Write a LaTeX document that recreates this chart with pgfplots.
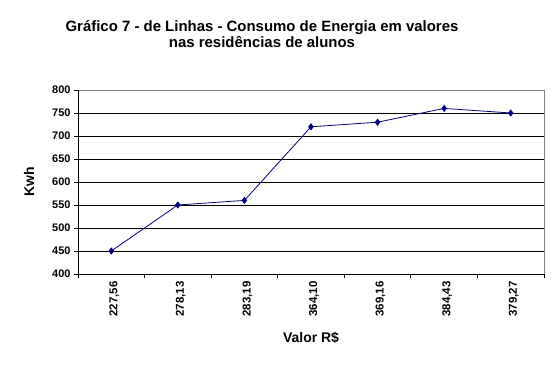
\documentclass[border=0pt]{standalone}
\usepackage{pgfplots}
\pgfplotsset{compat=1.18}
\usepackage{fontspec}
\setmainfont{Liberation Sans}
\definecolor{navy}{RGB}{0,0,128}
\begin{document}
\begin{tikzpicture}
\useasboundingbox (-78bp,-96bp) rectangle (482bp,274bp);
\begin{axis}[
  at={(0bp,0bp)}, anchor=south west,
  scale only axis, width=466bp, height=184bp,
  xmin=-0.5, xmax=6.5, ymin=400, ymax=800,
  ytick={400,450,...,800},
  xtick={0,...,6},
  xticklabels={{227,56},{278,13},{283,19},{364,10},{369,16},{384,43},{379,27}},
  minor xtick={-0.5,0.5,...,6.5},
  major x tick style={draw=none},
  minor tick length=4bp,
  major tick length=4bp,
  tick align=outside,
  xtick pos=bottom, ytick pos=left,
  ymajorgrids, grid style={black, line width=0.8pt},
  axis line style={line width=0.8pt},
  separate axis lines,
  x axis line style={black},
  y axis line style={black},
  tick style={black, line width=0.8pt},
  xticklabel style={rotate=90, anchor=east, font=\fontsize{11.5}{13}\selectfont\bfseries, yshift=-3bp},
  yticklabel style={font=\fontsize{11}{13}\selectfont\bfseries},
  /pgf/number format/assume math mode=true,
  xlabel={Valor R\$},
  ylabel={Kwh},
  xlabel style={font=\fontsize{14}{16}\selectfont\bfseries, at={(axis description cs:0.5,0)}, anchor=center, yshift=-64bp},
  ylabel style={font=\fontsize{14}{16}\selectfont\bfseries, at={(axis description cs:0,0.5)}, anchor=center, yshift=49bp},
  clip=false,
]
\addplot[navy, line width=0.8pt, mark=diamond*, mark size=3bp, mark options={fill=navy}] coordinates {
 (0,450) (1,550) (2,560) (3,720) (4,730) (5,760) (6,750)};
\end{axis}
\draw[gray, line width=0.8pt] (0bp,184bp) -- (466bp,184bp) -- (466bp,0bp);
\draw[black, line width=0.8pt] (0bp,0bp) -- (0bp,184bp);
\node[align=center, font=\fontsize{15}{16}\selectfont\bfseries] at (184bp,239.5bp) {Gráfico 7 - de Linhas - Consumo de Energia em valores\\nas residências de alunos};
\end{tikzpicture}
\end{document}
